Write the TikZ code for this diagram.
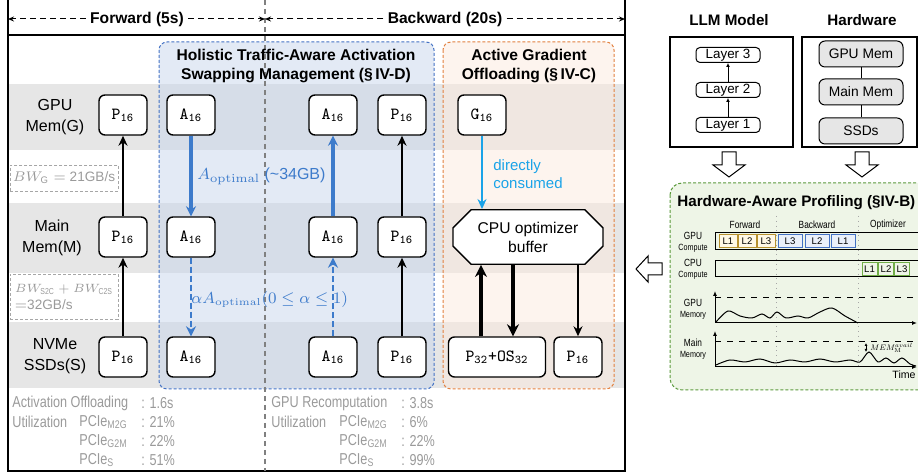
\documentclass[tikz,border=0pt]{standalone}
\usepackage[no-math]{fontspec}
\setmainfont{Liberation Sans}
\newfontfamily\narrowfont[FakeStretch=0.8]{Liberation Sans}
\usepackage{amsmath}
\usetikzlibrary{arrows.meta, positioning, shapes.misc, calc}
\definecolor{bandGray}{HTML}{E6E6E6}
\definecolor{swapFill}{HTML}{C7D5EB}
\definecolor{swapLine}{HTML}{4472C4}
\definecolor{swapArrow}{HTML}{3D7BCB}
\definecolor{gradFill}{HTML}{FBE9DD}
\definecolor{gradLine}{HTML}{E2803F}
\definecolor{directCyan}{HTML}{1AA3E8}
\definecolor{statGray}{HTML}{9A9A9A}
\definecolor{profFill}{HTML}{EEF5E7}
\definecolor{profLine}{HTML}{5B9A3C}
\definecolor{fwdLine}{HTML}{B8912F}
\definecolor{fwdFill}{HTML}{FFF8E6}
\definecolor{bwdFill}{HTML}{EAF0FA}
\definecolor{optLine}{HTML}{70AD47}

\begin{document}
\begin{tikzpicture}[x=0.5pt, y=-0.5pt, font=\fontsize{8}{10.5}\selectfont, >=Stealth,
        tensor/.style={draw, fill=white, rounded corners=3pt, line width=0.7pt,
            minimum width=24pt, minimum height=20pt, inner sep=1pt, font=\ttfamily\fontsize{8.5}{9}\selectfont},
        flow/.style={-{Stealth[length=5pt,width=4.5pt]}, line width=1pt},
        mv/.style={-{Stealth[length=5pt,width=5pt]}, line width=1.6pt, swapArrow},
        mvd/.style={mv, line width=1.3pt, dash pattern=on 3pt off 1.5pt},
        heavy/.style={-{Stealth[length=6pt,width=6pt]}, line width=2pt},
        hdr/.style={dash pattern=on 3pt off 2pt, -{Stealth[length=3pt,width=2.5pt]}, line width=0.5pt},
        head/.style={font=\bfseries\fontsize{7.8}{9.5}\selectfont, align=center},
        bwbox/.style={draw=gray!70, dash pattern=on 1.5pt off 1pt, text=statGray, align=left, inner sep=1.5pt,
            font=\fontsize{6.8}{8.5}\selectfont},
        stat/.style={anchor=west, inner sep=0pt, text=statGray, font=\narrowfont\fontsize{7.9}{8}\selectfont},
        lyr/.style={draw, rounded corners=2pt, line width=0.5pt, minimum width=32pt, minimum height=7.5pt,
            inner sep=0.3pt, font=\fontsize{6.7}{7}\selectfont},
        hwmem/.style={draw, fill=bandGray, rounded corners=3pt, line width=0.5pt, minimum width=42pt,
            minimum height=13pt, inner sep=0.5pt, font=\fontsize{6.9}{7}\selectfont},
        tiny/.style={inner sep=0pt, font=\narrowfont\fontsize{5.2}{5.5}\selectfont, align=center},
        blk/.style={minimum height=6.5pt, inner sep=0pt, line width=0.5pt, font=\fontsize{4.8}{5}\selectfont}]
    \useasboundingbox (0,0) rectangle (918,474);
    % row bands and the two technique boxes
    \foreach \t/\b in {84/150, 203/273, 322/388}
        \fill[bandGray] (8,\t) rectangle (625,\b);
    \fill[swapFill, fill opacity=0.5, rounded corners=4pt] (159,42) rectangle (434,389);
    \fill[gradFill, fill opacity=0.5, rounded corners=4pt] (443,42) rectangle (614,389);
    \draw[swapLine, dash pattern=on 1.5pt off 1pt, rounded corners=4pt, line width=0.5pt] (159,42) rectangle (434,389);
    \draw[gradLine, dash pattern=on 1.5pt off 1pt, rounded corners=4pt, line width=0.5pt] (443,42) rectangle (614,389);
    % frame
    \draw[line width=0.6pt] (8,0) -- (8,471) -- (625,471) -- (625,0);
    \draw[line width=0.6pt] (8,35) -- (625,35);
    \draw[gray, dash pattern=on 2.5pt off 2pt, line width=0.6pt] (265,0) -- (265,471);
    % header
    \coordinate (l0) at (8,19);
    \coordinate (m0) at (265,19);
    \coordinate (r0) at (625,19);
    \node[head, fill=white, inner sep=2pt] (fw) at (137,19) {Forward (5s)};
    \node[head, fill=white, inner sep=2pt] (bw) at (445,19) {Backward (20s)};
    \draw[hdr] (fw.west) -- (l0);
    \draw[hdr] (fw.east) -- (m0);
    \draw[hdr] (bw.west) -- (m0);
    \draw[hdr] (bw.east) -- (r0);
    \node[head] (swapT) at (296,66) {Holistic Traffic-Aware Activation\\Swapping Management (\S\,IV-D)};
    \node[head] (gradT) at (529,66) {Active Gradient\\Offloading (\S\,IV-C)};
    % rows
    \node[align=center] (rG) at (55,117) {GPU\\Mem(G)};
    \node[align=center] (rM) at (52,238) {Main\\Mem(M)};
    \node[align=center] (rS) at (55,356) {NVMe\\SSDs(S)};
    \node[tensor] (pG) at (123,115) {P\textsubscript{16}};
    \node[tensor] (pM) at (123,237) {P\textsubscript{16}};
    \node[tensor] (pS) at (123,357) {P\textsubscript{16}};
    \node[tensor] (aG1) at (191,115) {A\textsubscript{16}};
    \node[tensor] (aM1) at (191,237) {A\textsubscript{16}};
    \node[tensor] (aS1) at (191,357) {A\textsubscript{16}};
    \node[tensor] (aG2) at (333,115) {A\textsubscript{16}};
    \node[tensor] (aM2) at (333,237) {A\textsubscript{16}};
    \node[tensor] (aS2) at (333,357) {A\textsubscript{16}};
    \node[tensor] (pG2) at (402,115) {P\textsubscript{16}};
    \node[tensor] (pM2) at (402,237) {P\textsubscript{16}};
    \node[tensor] (pS2) at (402,357) {P\textsubscript{16}};
    \node[tensor] (gG) at (482,115) {G\textsubscript{16}};
    \node[draw, fill=white, chamfered rectangle, chamfered rectangle xsep=4pt, chamfered rectangle ysep=5pt,
        minimum width=75pt, minimum height=24pt, inner sep=1pt, align=center, line width=0.7pt,
        font=\fontsize{7.8}{9.5}\selectfont] (buf) at (528,237) {CPU optimizer\\buffer};
    \node[tensor, minimum width=48.5pt] (pos) at (497,357) {P\textsubscript{32}+OS\textsubscript{32}};
    \node[tensor] (pS3) at (578,357) {P\textsubscript{16}};
    % transfers
    \draw[flow] (pS) -- (pM);
    \draw[flow] (pM) -- (pG);
    \draw[mv] (aG1) -- (aM1);
    \draw[mvd] (aM1) -- (aS1);
    \draw[mvd] (aS2) -- (aM2);
    \draw[mv] (aM2) -- (aG2);
    \draw[flow] (pS2) -- (pM2);
    \draw[flow] (pM2) -- (pG2);
    \draw[flow, directCyan, line width=1.2pt] (gG) -- (gG |- buf.north);
    \draw[heavy] ([xshift=-8pt]pos.north) -- ([xshift=-8pt]pos.north |- buf.south);
    \draw[heavy] ([xshift=8pt]pos.north |- buf.south) -- ([xshift=8pt]pos.north);
    \draw[flow] (buf.south -| pS3) -- (pS3);
    \node[anchor=west, text=swapArrow, inner sep=0pt, font=\fontsize{8}{9}\selectfont] (optL) at (197,176)
        {$A_{\mathrm{optimal}}$ (\textasciitilde 34GB)};
    \node[anchor=west, text=swapArrow, inner sep=0pt, font=\fontsize{7.7}{9}\selectfont] (alphaL) at (191,300)
        {$\alpha A_{\mathrm{optimal}}(0\le\alpha\le1)$};
    \node[anchor=west, text=directCyan, align=left, inner sep=0pt, font=\fontsize{7.5}{9}\selectfont] (dcL) at (493,174)
        {directly\\consumed};
    \node[bwbox, minimum width=54pt, minimum height=13pt] (bwG) at (64,178) {$BW_{\text{G}}=$ 21GB/s};
    \node[bwbox, minimum width=54pt, minimum height=22.5pt, inner xsep=2pt] (bwS) at (64,296.5)
        {{\fontsize{6.2}{8.5}\selectfont$BW_{\text{\narrowfont S2C}}+BW_{\text{\narrowfont C2S}}$}\\$=$32GB/s};
    % measurements
    \node[stat] (s1) at (12,403) {Activation Offloading};
    \node[stat] (s1v) at (141,403) {: 1.6s};
    \node[stat] (s2) at (12,422) {Utilization};
    \foreach \y/\p/\v [count=\i] in {422/M2G/21, 441/G2M/22, 460/S/51} {
        \node[stat] (fp\i) at (79,\y) {PCIe\textsubscript{\p}};
        \node[stat] (fv\i) at (141,\y) {: \v\%};
    }
    \node[stat] (t1) at (271,403) {GPU Recomputation};
    \node[stat] (t1v) at (401,403) {: 3.8s};
    \node[stat] (t2) at (271,422) {Utilization};
    \foreach \y/\p/\v [count=\i] in {422/M2G/6, 441/G2M/22, 460/S/99} {
        \node[stat] (bp\i) at (339,\y) {PCIe\textsubscript{\p}};
        \node[stat] (bv\i) at (401,\y) {: \v\%};
    }
    % inputs: model and hardware
    \node[font=\bfseries\fontsize{7.6}{9}\selectfont] (llmT) at (729,20) {LLM Model};
    \node[font=\bfseries\fontsize{7.6}{9}\selectfont] (hwT) at (862,20) {Hardware};
    \draw[line width=0.6pt] (670,37) rectangle (793,147);
    \draw[line width=0.6pt] (802,37) rectangle (917,147);
    \foreach \i/\y in {1/125, 2/90, 3/55}
        \node[lyr] (L\i) at (728,\y) {Layer \i};
    \draw[-{Latex[length=2pt,width=2pt]}, line width=0.5pt] (L1) -- (L2);
    \draw[-{Latex[length=2pt,width=2pt]}, line width=0.5pt] (L2) -- (L3);
    \node[hwmem] (hG) at (861,54) {GPU Mem};
    \node[hwmem] (hM) at (861,92) {Main Mem};
    \node[hwmem] (hS) at (861,131) {SSDs};
    \draw[line width=0.5pt] (hG) -- (hM) -- (hS);
    \foreach \x in {729,862}
        \draw[fill=white, line width=0.5pt] (\x-7,152) -- (\x+7,152) -- (\x+7,165) -- (\x+16,165) -- (\x,177)
            -- (\x-16,165) -- (\x-7,165) -- cycle;
    \draw[fill=white, line width=0.5pt] (662,263) -- (648,263) -- (648,256) -- (636,269) -- (648,282)
        -- (648,275) -- (662,275) -- cycle;
    % profiling
    \fill[profFill, rounded corners=6pt] (670,183) rectangle (940,390);
    \draw[profLine, dash pattern=on 1.5pt off 1pt, rounded corners=6pt, line width=0.5pt] (670,183) rectangle (940,390);
    \node[anchor=west, inner sep=0pt, font=\bfseries\fontsize{7.6}{9}\selectfont] (profT) at (677,203)
        {Hardware-Aware Profiling (\S IV-B)};
    \foreach \x in {776,858}
        \draw[gray!70, dotted, line width=0.4pt] (\x,216) -- (\x,367);
    \node[tiny] (phF) at (745,225) {Forward};
    \node[tiny] (phB) at (817,225) {Backward};
    \node[tiny] (phO) at (888,225) {Optimizer};
    \node[tiny] (gcL) at (693,242) {GPU\\{\fontsize{4.5}{5}\selectfont Compute}};
    \node[tiny] (ccL) at (693,269) {CPU\\{\fontsize{4.5}{5}\selectfont Compute}};
    \node[tiny] (gmL) at (693,309) {GPU\\{\fontsize{4.5}{5}\selectfont Memory}};
    \node[tiny] (mmL) at (693,349) {Main\\{\fontsize{4.5}{5}\selectfont Memory}};
    \draw[line width=0.5pt] (715,233) rectangle (935,250);
    \draw[line width=0.5pt] (715,261) rectangle (935,277);
    \foreach \x/\t in {728/L1, 747/L2, 766/L3}
        \node[blk, draw=fwdLine, fill=fwdFill, minimum width=9pt] (f\t) at (\x,241.5) {\t};
    \foreach \x/\t in {790/L3, 817/L2, 843/L1}
        \node[blk, draw=swapLine, fill=bwdFill, minimum width=12pt] (b\t) at (\x,241.5) {\t};
    \foreach \x/\t in {869.5/L1, 886/L2, 902/L3}
        \node[blk, draw=optLine, fill=profFill, minimum width=7.5pt] (o\t) at (\x,269) {\t};
    \draw[-{Latex[length=2.5pt,width=2pt]}, line width=0.5pt] (715,323) -- (715,291);
    \draw[-{Latex[length=2.5pt,width=2pt]}, line width=0.5pt] (715,323) -- (917,323);
    \draw[dashed, line width=0.5pt] (715,298) -- (918,298);
    \draw[line width=0.5pt] plot[smooth] coordinates {(716,322) (728,311) (740,316) (752,318) (762,314)
        (770,318) (777,312) (786,318) (798,316) (808,318) (820,312) (832,308) (845,316) (858,323)};
    \draw[-{Latex[length=2.5pt,width=2pt]}, line width=0.5pt] (715,367) -- (715,331);
    \draw[-{Latex[length=2.5pt,width=2pt]}, line width=0.5pt] (715,367) -- (917,367);
    \draw[dashed, line width=0.5pt] (715,342) -- (918,342);
    \draw[line width=0.5pt] plot[smooth] coordinates {(716,365) (730,360) (745,362) (760,359) (775,363)
        (790,360) (805,362) (820,359) (835,362) (850,360) (860,362) (869,352) (878,362) (886,358) (894,363)
        (902,358) (910,364) (916,366)};
    \draw[{Latex[length=1.5pt,width=1.5pt]}-{Latex[length=1.5pt,width=1.5pt]}, line width=0.3pt] (866,343) -- (866,352);
    \node[anchor=west, inner sep=0pt] (memL) at (870,348) {\scalebox{0.5}{$MEM_{\mathrm{M}}^{avail}$}};
    \node[inner sep=0pt, font=\fontsize{5.3}{6}\selectfont] (timeL) at (904,375) {Time};
\end{tikzpicture}
\end{document}
